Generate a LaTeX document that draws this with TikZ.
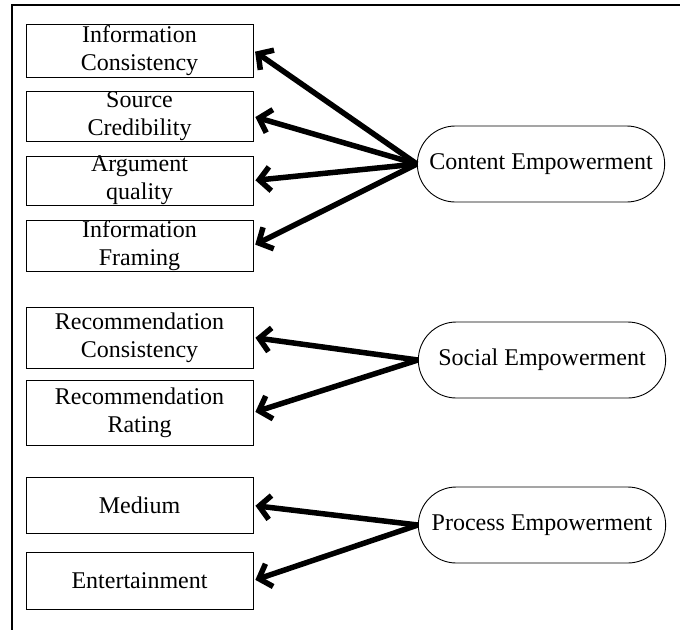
\documentclass[tikz,border=0pt]{standalone}
\usepackage{fontspec}
\setmainfont{Liberation Serif}
\usetikzlibrary{arrows.meta,shapes.misc}

\tikzset{
  factor/.style={draw,line width=0.9pt,minimum width=227pt,align=center,inner sep=0pt,
    font=\fontsize{24}{28}\selectfont},
  dim/.style={draw,line width=0.9pt,rounded rectangle,minimum width=254pt,minimum height=76pt,
    font=\fontsize{24}{28}\selectfont},
  link/.style={line width=5.5pt,-{Straight Barb[length=11pt,width=24pt]},shorten >=2pt}
}

\begin{document}
\begin{tikzpicture}[x=1pt,y=-1pt]
\useasboundingbox (0,0) rectangle (680,630);
% frame
\draw[line width=1.3pt] (680,5) -- (12,5) -- (12,630);
% first-order dimensions
\node[dim] (content) at (541,164) {Content Empowerment};
\node[dim] (social) at (542,360) {Social Empowerment};
\node[dim] (process) at (542,525) {Process Empowerment};
% content group
\node[factor,minimum height=53pt] (ic) at (139.5,50.5) {Information\\Consistency};
\node[factor,minimum height=50pt] (sc) at (139.5,116.5) {Source\\Credibility};
\node[factor,minimum height=49pt] (aq) at (139.5,180.5) {Argument\\quality};
\node[factor,minimum height=51pt] (if) at (139.5,245.5) {Information\\Framing};
% social group
\node[factor,minimum height=61pt] (rc) at (139.5,337.5) {Recommendation\\Consistency};
\node[factor,minimum height=65pt] (rr) at (139.5,412.5) {Recommendation\\Rating};
% process group
\node[factor,minimum height=56pt] (med) at (139.5,505.5) {Medium};
\node[factor,minimum height=57pt] (ent) at (139.5,580.5) {Entertainment};
% arrows
\foreach \f in {ic,sc,aq,if}
  \draw[link] (content.west) -- (\f.east);
\foreach \f in {rc,rr}
  \draw[link] (social.west) -- (\f.east);
\foreach \f in {med,ent}
  \draw[link] (process.west) -- (\f.east);
\end{tikzpicture}
\end{document}
